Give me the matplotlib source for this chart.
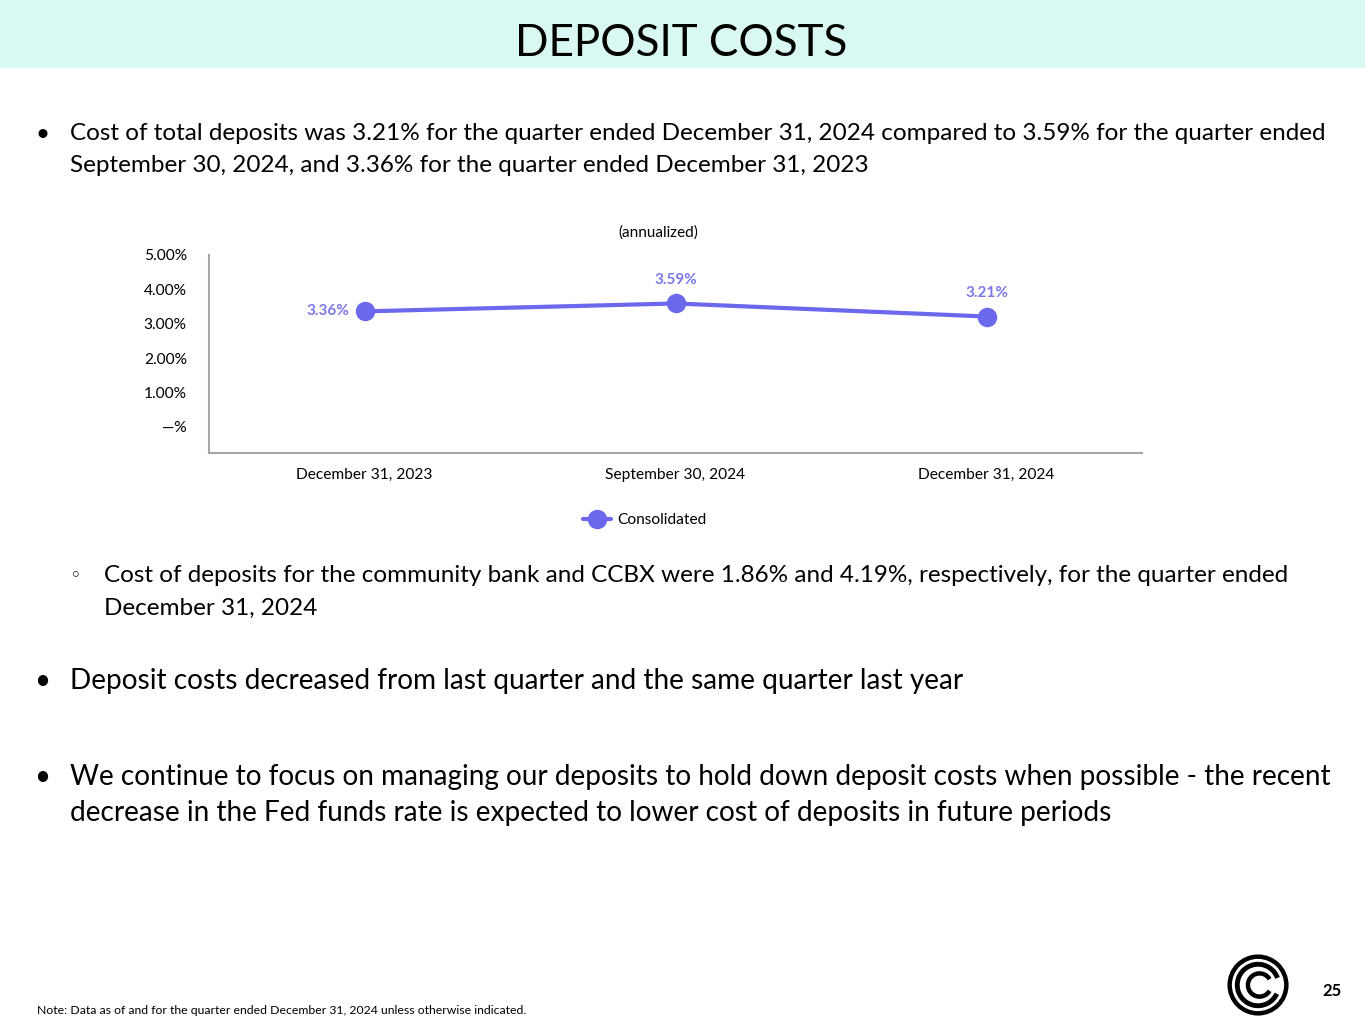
import matplotlib
matplotlib.use('Agg')
import matplotlib.pyplot as plt
from matplotlib.patches import Rectangle, Circle, Arc

# data
periods = ['December 31, 2023', 'September 30, 2024', 'December 31, 2024']
cost_of_deposits = [3.36, 3.59, 3.21]
y_ticks = [0, 1, 2, 3, 4, 5]
y_tick_labels = ['\u2014%', '1.00%', '2.00%', '3.00%', '4.00%', '5.00%']
series_name = 'Consolidated'

LINE = '#6C68EE'
LABEL = '#7B77E8'
HEADER_BG = '#D9F8F2'
BODY_FONT = 'Lato'

W, H = 1365, 1024
fig = plt.figure(figsize=(13.65, 10.24), dpi=100)
fig.patch.set_facecolor('white')


def fx(px):
    return px / W


def fy(py):
    return 1 - py / H


# header band
fig.add_artist(Rectangle((0, fy(68)), 1, 68 / H, transform=fig.transFigure,
                         facecolor=HEADER_BG, edgecolor='none'))
fig.text(fx(681), fy(43), 'DEPOSIT COSTS', ha='center', va='center',
         fontsize=31.7, family='Lato', color='black')

# bullet 1
fig.text(fx(42), fy(134), '\u2022', ha='center', va='center', fontsize=17.5, family=BODY_FONT)
fig.text(fx(70), fy(134), 'Cost of total deposits was 3.21% for the quarter ended December 31, 2024 '
         'compared to 3.59% for the quarter ended', ha='left', va='center',
         fontsize=17.5, family=BODY_FONT)
fig.text(fx(70), fy(166), 'September 30, 2024, and 3.36% for the quarter ended December 31, 2023',
         ha='left', va='center', fontsize=17.5, family=BODY_FONT)

# chart
ax = fig.add_axes([fx(209), fy(453), fx(1142) - fx(209), (453 - 255) / H])
x = list(range(len(periods)))
ax.plot(x, cost_of_deposits, color=LINE, lw=3, marker='o', markersize=13,
        label=series_name, solid_capstyle='round')
ax.set_xlim(-0.5, len(periods) - 0.5)
ax.set_ylim(-0.76, 5.0)
ax.set_yticks(y_ticks)
ax.set_yticklabels(y_tick_labels)
ax.set_xticks(x)
ax.set_xticklabels(periods)
ax.tick_params(axis='y', length=0, pad=16, labelsize=11.2)
ax.tick_params(axis='x', length=0, pad=11, labelsize=11.2)
for lab in ax.get_xticklabels() + ax.get_yticklabels():
    lab.set_family(BODY_FONT)
for s in ['top', 'right']:
    ax.spines[s].set_visible(False)
for s in ['left', 'bottom']:
    ax.spines[s].set_color('#A6A6A6')
    ax.spines[s].set_linewidth(1.5)

# data labels: first one to the left, the rest above
for i, v in enumerate(cost_of_deposits):
    if i == 0:
        ax.annotate(f'{v:.2f}%', (i, v), xytext=(-11, 0), textcoords='offset points',
                    ha='right', va='center', color=LABEL, fontsize=11, weight='bold',
                    family=BODY_FONT)
    else:
        ax.annotate(f'{v:.2f}%', (i, v), xytext=(0, 17), textcoords='offset points',
                    ha='center', va='center', color=LABEL, fontsize=11, weight='bold',
                    family=BODY_FONT)

fig.text(fx(658), fy(233), '(annualized)', ha='center', va='center', fontsize=11,
         family=BODY_FONT)

leg = ax.legend(loc='center', bbox_to_anchor=(fx(645), fy(520)), bbox_transform=fig.transFigure,
                frameon=False, handlelength=1.8, handletextpad=0.4,
                prop={'family': BODY_FONT, 'size': 11.2})

# sub bullet
fig.text(fx(75), fy(576), '\u25e6', ha='center', va='center', fontsize=14, family='DejaVu Sans')
fig.text(fx(104), fy(576), 'Cost of deposits for the community bank and CCBX were 1.86% and 4.19%, '
         'respectively, for the quarter ended', ha='left', va='center', fontsize=17.5,
         family=BODY_FONT)
fig.text(fx(104), fy(608), 'December 31, 2024', ha='left', va='center', fontsize=17.5,
         family=BODY_FONT)

# bullet 2
fig.text(fx(42), fy(681), '\u2022', ha='center', va='center', fontsize=20, family=BODY_FONT)
fig.text(fx(70), fy(681), 'Deposit costs decreased from last quarter and the same quarter last year',
         ha='left', va='center', fontsize=20.2, family=BODY_FONT)

# bullet 3
fig.text(fx(42), fy(777), '\u2022', ha='center', va='center', fontsize=20, family=BODY_FONT)
fig.text(fx(70), fy(777), 'We continue to focus on managing our deposits to hold down deposit costs '
         'when possible - the recent', ha='left', va='center', fontsize=20.15, family=BODY_FONT)
fig.text(fx(70), fy(813), 'decrease in the Fed funds rate is expected to lower cost of deposits in '
         'future periods', ha='left', va='center', fontsize=20.15, family=BODY_FONT)

# footer
fig.text(fx(37), fy(1010), 'Note: Data as of and for the quarter ended December 31, 2024 unless '
         'otherwise indicated.', ha='left', va='center', fontsize=8.85, family=BODY_FONT)
fig.text(fx(1332), fy(991), '25', ha='center', va='center', fontsize=12, weight='bold',
         family=BODY_FONT)

# logo
lax = fig.add_axes([fx(1226), fy(1017), 64 / W, 64 / H])
lax.set_xlim(-1.05, 1.05)
lax.set_ylim(-1.05, 1.05)
lax.set_aspect('equal')
lax.axis('off')
lax.add_patch(Circle((0, 0), 0.93, fill=False, lw=3.2, color='black'))
lax.add_patch(Arc((0, 0), 1.36, 1.36, theta1=20, theta2=335, lw=3.5, color='black'))
lax.add_patch(Arc((0.05, 0), 0.76, 0.76, theta1=30, theta2=330, lw=3.2, color='black'))

fig.savefig('out.png', dpi=100)
